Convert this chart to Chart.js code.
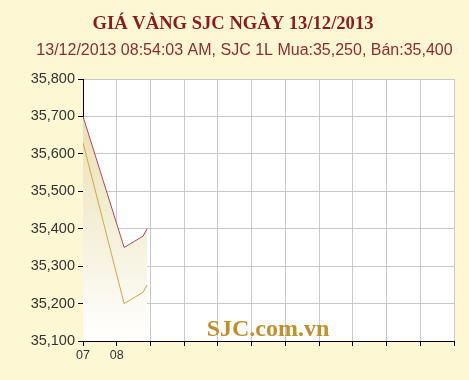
<!DOCTYPE html>
<html>
<head>
<meta charset="utf-8">
<script src="https://cdn.jsdelivr.net/npm/chart.js@4/dist/chart.umd.min.js"></script>
<style>
  html, body { margin: 0; padding: 0; background: #fdf8d3; }
  #wrap { width: 469px; height: 380px; }
</style>
</head>
<body>
<div id="wrap"><canvas id="c" width="469" height="380"></canvas></div>
<script>
// ---- data ----
const timeHours = [7.0, 8.22, 8.78, 8.9];
const muaValues = [35630, 35200, 35230, 35250];
const banValues = [35700, 35350, 35380, 35400];
const xTickLabels = ['07', '08', '', '', '', '', '', '', '', '', '', ''];
const titleText = 'GIÁ VÀNG SJC NGÀY 13/12/2013';
const subtitleText = '13/12/2013 08:54:03 AM, SJC 1L Mua:35,250, Bán:35,400';
const watermarkText = 'SJC.com.vn';

const toPoints = (xs, ys) => xs.map((x, i) => ({ x: x, y: ys[i] }));

const bgPlugin = {
  id: 'bg',
  beforeDraw(chart) {
    const ctx = chart.ctx;
    ctx.save();
    ctx.fillStyle = '#fdf8d3';
    ctx.fillRect(0, 0, chart.width, chart.height);
    const a = chart.chartArea;
    ctx.fillStyle = '#ffffff';
    ctx.fillRect(a.left, a.top, a.right - a.left, a.bottom - a.top);
    ctx.restore();
  }
};

const textPlugin = {
  id: 'texts',
  afterDraw(chart) {
    const ctx = chart.ctx;
    ctx.save();
    ctx.textAlign = 'center';
    ctx.textBaseline = 'alphabetic';
    ctx.font = 'bold 18.6px "Liberation Serif", "Times New Roman", serif';
    ctx.fillStyle = '#8c1c1c';
    ctx.fillText(titleText, 233, 28.5);
    ctx.font = '16px "Liberation Sans", Arial, sans-serif';
    ctx.fillStyle = '#8e2e2e';
    ctx.fillText(subtitleText, 244.5, 55);
    ctx.restore();
  },
  afterDatasetsDraw(chart) {
    const ctx = chart.ctx;
    ctx.save();
    ctx.font = 'bold 24px "Liberation Serif", "Times New Roman", serif';
    ctx.fillStyle = '#c0902c';
    ctx.textAlign = 'center';
    ctx.textBaseline = 'alphabetic';
    ctx.fillText(watermarkText, 268, 336);
    ctx.restore();
  }
};

new Chart(document.getElementById('c'), {
  type: 'line',
  data: {
    datasets: [
      {
        label: 'Mua',
        data: toPoints(timeHours, muaValues),
        borderColor: '#d2a640',
        borderWidth: 1,
        pointRadius: 0,
        tension: 0,
        fill: false,
        order: 0
      },
      {
        label: 'Bán',
        data: toPoints(timeHours, banValues),
        borderColor: '#ac4a52',
        borderWidth: 1,
        pointRadius: 0,
        tension: 0,
        fill: 'start',
        order: 1,
        backgroundColor(ctx) {
          const area = ctx.chart.chartArea;
          if (!area) return 'rgba(230,220,170,0.6)';
          const g = ctx.chart.ctx.createLinearGradient(0, area.top + 30, 0, area.bottom);
          g.addColorStop(0, '#e9dfb0');
          g.addColorStop(1, '#ffffff');
          return g;
        }
      }
    ]
  },
  options: {
    responsive: false,
    animation: false,
    devicePixelRatio: 1,
    layout: { padding: { left: 0, right: 15, top: 79, bottom: 0 } },
    plugins: {
      legend: { display: false },
      tooltip: { enabled: false },
      title: { display: false },
      subtitle: { display: false }
    },
    scales: {
      x: {
        type: 'linear',
        min: 7,
        max: 18,
        afterFit(scale) { scale.height = 39; },
        ticks: {
          stepSize: 1,
          autoSkip: false,
          maxRotation: 0,
          padding: 2,
          color: '#333333',
          font: { family: '"Liberation Sans", Arial, sans-serif', size: 12.5 },
          callback(value, index) { return xTickLabels[index] !== undefined ? xTickLabels[index] : ''; }
        },
        grid: { color: '#c8c8c8', tickColor: '#000000', tickLength: 5, lineWidth: 1 },
        border: { color: '#000000', width: 1 }
      },
      y: {
        min: 35100,
        max: 35800,
        afterFit(scale) { scale.width = 83; },
        ticks: {
          stepSize: 100,
          padding: 3,
          color: '#333333',
          font: { family: '"Liberation Sans", Arial, sans-serif', size: 14.5 },
          callback(value) { return value.toLocaleString('en-US'); }
        },
        grid: { color: '#c8c8c8', tickColor: '#000000', tickLength: 5, lineWidth: 1 },
        border: { color: '#000000', width: 1 }
      }
    }
  },
  plugins: [bgPlugin, textPlugin]
});
</script>
</body>
</html>
